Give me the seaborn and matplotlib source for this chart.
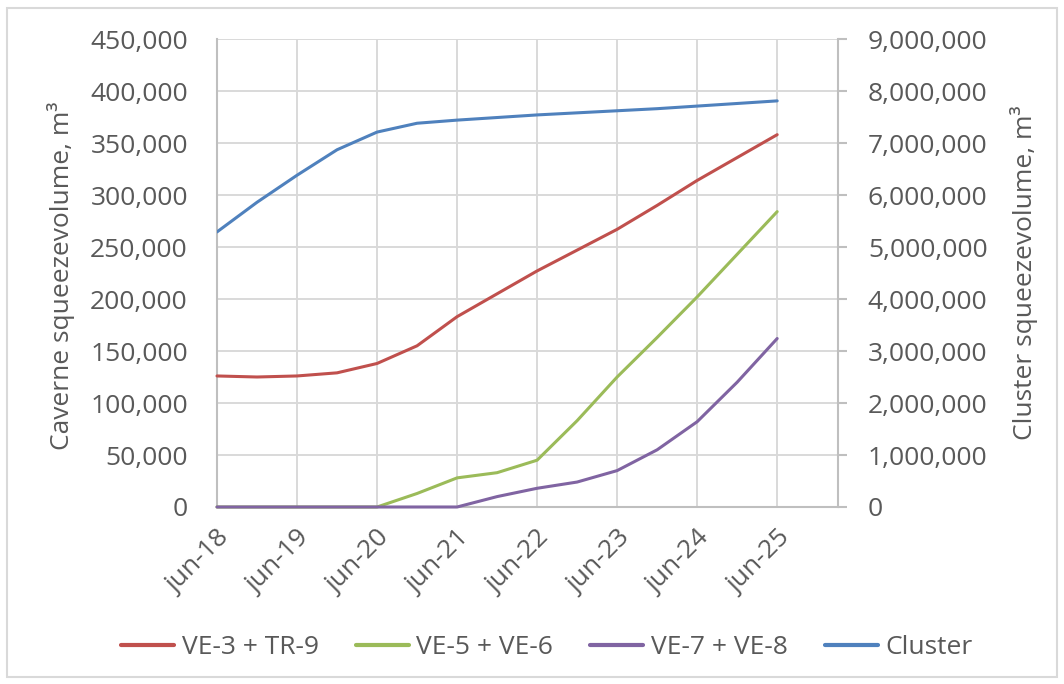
import pandas as pd
import seaborn as sns
from matplotlib import pyplot as plt
from matplotlib.lines import Line2D
from matplotlib.patches import Rectangle
from matplotlib.ticker import FuncFormatter, MultipleLocator

# years after jun-18, values every half year
t = [0.0, 0.5, 1.0, 1.5, 2.0, 2.5, 3.0, 3.5, 4.0, 4.5, 5.0, 5.5, 6.0, 6.5, 7.0]
tick_pos = [0, 1, 2, 3, 4, 5, 6, 7]
tick_labels = ["jun-18", "jun-19", "jun-20", "jun-21", "jun-22", "jun-23", "jun-24", "jun-25"]

ve3_tr9 = [126000, 125000, 126000, 129000, 138000, 155000, 183000, 205000,
           227000, 247000, 267000, 290000, 314000, 336000, 358000]
ve5_ve6 = [0, 0, 0, 0, 0, 13000, 28000, 33000,
           45000, 83000, 125000, 163000, 202000, 243000, 284000]
ve7_ve8 = [0, 0, 0, 0, 0, 0, 0, 10000,
           18000, 24000, 35000, 55000, 82000, 120000, 162000]
cluster = [5290000, 5860000, 6380000, 6870000, 7210000, 7380000, 7440000, 7490000,
           7540000, 7580000, 7620000, 7660000, 7710000, 7760000, 7810000]

series_names = ["VE-3 + TR-9", "VE-5 + VE-6", "VE-7 + VE-8", "Cluster"]
colors = ["#C0504D", "#9BBB59", "#8064A2", "#4F81BD"]

sns.set_theme(style="whitegrid")
plt.rcParams["font.family"] = ["Open Sans", "DejaVu Sans"]
text_grey = "#595959"
grid_grey = "#D9D9D9"
axis_grey = "#BFBFBF"

df = pd.DataFrame({"t": t, series_names[0]: ve3_tr9,
                   series_names[1]: ve5_ve6, series_names[2]: ve7_ve8})
df_long = df.melt(id_vars="t", var_name="series", value_name="volume")

fig = plt.figure(figsize=(10.64, 6.84), dpi=100)
ax = fig.add_axes([217 / 1064, 1 - 507 / 684, 621 / 1064, 468 / 684])
sns.lineplot(data=df_long, x="t", y="volume", hue="series",
             hue_order=series_names[:3], palette=colors[:3],
             linewidth=2.2, ax=ax, legend=False)
# keep the zero stretches visible above the bottom axis line
for line in ax.get_lines():
    line.set_zorder(3)
    line.set_clip_on(False)
ax2 = ax.twinx()
sns.lineplot(x=t, y=cluster, color=colors[3], linewidth=2.2, ax=ax2)

fmt = FuncFormatter(lambda v, p: f"{v:,.0f}")
ax.set_xlim(0, 7.76)
ax.set_ylim(0, 450000)
ax2.set_ylim(0, 9000000)
ax.yaxis.set_major_locator(MultipleLocator(50000))
ax2.yaxis.set_major_locator(MultipleLocator(1000000))
ax.yaxis.set_major_formatter(fmt)
ax2.yaxis.set_major_formatter(fmt)
ax.set_xticks(tick_pos)
ax.set_xticklabels(tick_labels, rotation=45, ha="right", va="top",
                   rotation_mode="anchor")
ax.set_xlabel("")

ax.grid(True, color=grid_grey, linewidth=1.4)
ax2.grid(False)
for s in ["top", "right"]:
    ax.spines[s].set_visible(False)
for s in ["left", "bottom"]:
    ax.spines[s].set_color(axis_grey)
    ax.spines[s].set_linewidth(1.5)
for s in ["top", "left", "bottom"]:
    ax2.spines[s].set_visible(False)
ax2.spines["right"].set_color(axis_grey)
ax2.spines["right"].set_linewidth(1.5)

ax.tick_params(axis="y", length=0, pad=21, labelsize=19, labelcolor=text_grey)
ax.tick_params(axis="x", length=0, pad=13, labelsize=19, labelcolor=text_grey)
ax2.tick_params(axis="y", direction="out", length=6.5, width=1.5, color=axis_grey,
                pad=15, labelsize=19, labelcolor=text_grey)

ax.set_ylabel("Caverne squeezevolume, m³", fontsize=19, color=text_grey, va="center")
ax.yaxis.set_label_coords(-0.251, 0.494)
ax2.set_ylabel("Cluster squeezevolume, m³", fontsize=19, color=text_grey,
               va="center", rotation=90)
ax2.yaxis.set_label_coords(1.2995, 0.5)

handles = [Line2D([], [], color=c, linewidth=3) for c in colors]
fig.legend(handles, series_names, loc="center", bbox_to_anchor=(0.514, 0.053),
           ncol=4, frameon=False, fontsize=19, handlelength=2.0,
           handletextpad=0.3, columnspacing=1.4, labelcolor=text_grey)

fig.patches.append(Rectangle((7 / 1064, 7 / 684), 1050 / 1064, 669 / 684,
                             transform=fig.transFigure, fill=False,
                             edgecolor=grid_grey, linewidth=1.5))

fig.savefig("out.png", dpi=100)
plt.close()
